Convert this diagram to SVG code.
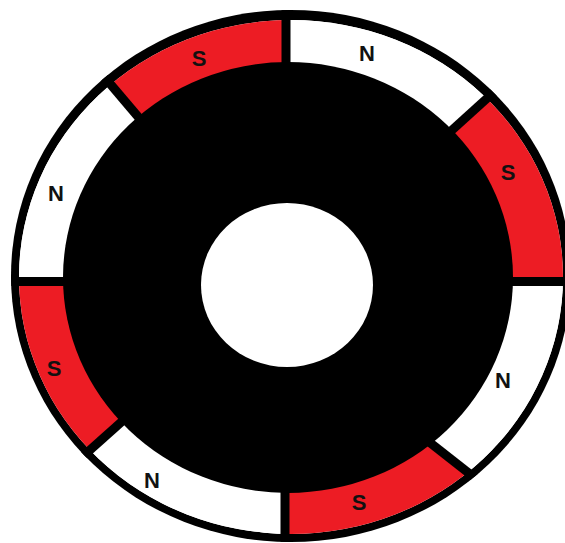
<svg xmlns="http://www.w3.org/2000/svg" width="565" height="543" viewBox="0 0 565 543">
  <style>
    .red { fill: #ed1c24; }
    .white { fill: #ffffff; }
    .div { stroke: #000; stroke-width: 9; fill: none; }
    .lbl { font-family: "Liberation Sans", Arial, sans-serif; font-weight: bold; font-size: 22px; fill: #111; text-anchor: middle; dominant-baseline: central; }
  </style>
  <defs>
    <clipPath id="fillClip"><ellipse cx="291" cy="277" rx="272" ry="257"/></clipPath>
    <clipPath id="outerClip"><ellipse cx="291" cy="276" rx="280" ry="266"/></clipPath>
  </defs>
  <rect width="565" height="543" fill="#fff"/>
  <g id="ring">
    <ellipse cx="291" cy="276" rx="280" ry="266" fill="#000"/>
    <ellipse cx="291" cy="277" rx="272" ry="257" fill="#fff"/>
  </g>
  <g clip-path="url(#fillClip)">
    <g id="seg-s-topleft"><polygon class="red" points="235,231 -84,-145 286,-200 286,150"/></g>
    <g id="seg-n-topright"><polygon class="white" points="286,150 286,-200 709,-103 344,228"/></g>
    <g id="seg-s-right"><polygon class="red" points="344,228 709,-103 800,281.5 420,281.5"/></g>
    <g id="seg-n-right"><polygon class="white" points="420,281.5 800,281.5 703,657 312,350"/></g>
    <g id="seg-s-bottom"><polygon class="red" points="285,420 285,800 703,657 312,350"/></g>
    <g id="seg-n-bottomleft"><polygon class="white" points="285,420 285,800 -134,650 230,325"/></g>
    <g id="seg-s-left"><polygon class="red" points="150,281.5 -200,281.5 -134,650 230,325"/></g>
    <g id="seg-n-left"><polygon class="white" points="150,281.5 -200,281.5 -84,-145 235,231"/></g>
  </g>
  <g id="connectors" clip-path="url(#outerClip)">
    <line class="div" x1="286" y1="150" x2="286" y2="-200"/>
    <line class="div" x1="344" y1="228" x2="709" y2="-103"/>
    <line class="div" x1="420" y1="281.5" x2="800" y2="281.5"/>
    <line class="div" x1="312" y1="350" x2="703" y2="657"/>
    <line class="div" x1="285" y1="420" x2="285" y2="800"/>
    <line class="div" x1="230" y1="325" x2="-134" y2="650"/>
    <line class="div" x1="150" y1="281.5" x2="-200" y2="281.5"/>
    <line class="div" x1="235" y1="231" x2="-84" y2="-145"/>
  </g>
  <g id="rotor">
    <ellipse cx="288" cy="277.5" rx="225" ry="215.5" fill="#000"/>
    <ellipse id="hole" cx="287" cy="285" rx="86" ry="82" fill="#fff"/>
  </g>
  <g id="labels">
    <text class="lbl" x="199" y="58">S</text>
    <text class="lbl" x="367" y="53">N</text>
    <text class="lbl" x="508" y="172">S</text>
    <text class="lbl" x="56" y="193">N</text>
    <text class="lbl" x="54" y="368">S</text>
    <text class="lbl" x="503" y="380">N</text>
    <text class="lbl" x="152" y="480">N</text>
    <text class="lbl" x="359" y="502">S</text>
  </g>
</svg>
